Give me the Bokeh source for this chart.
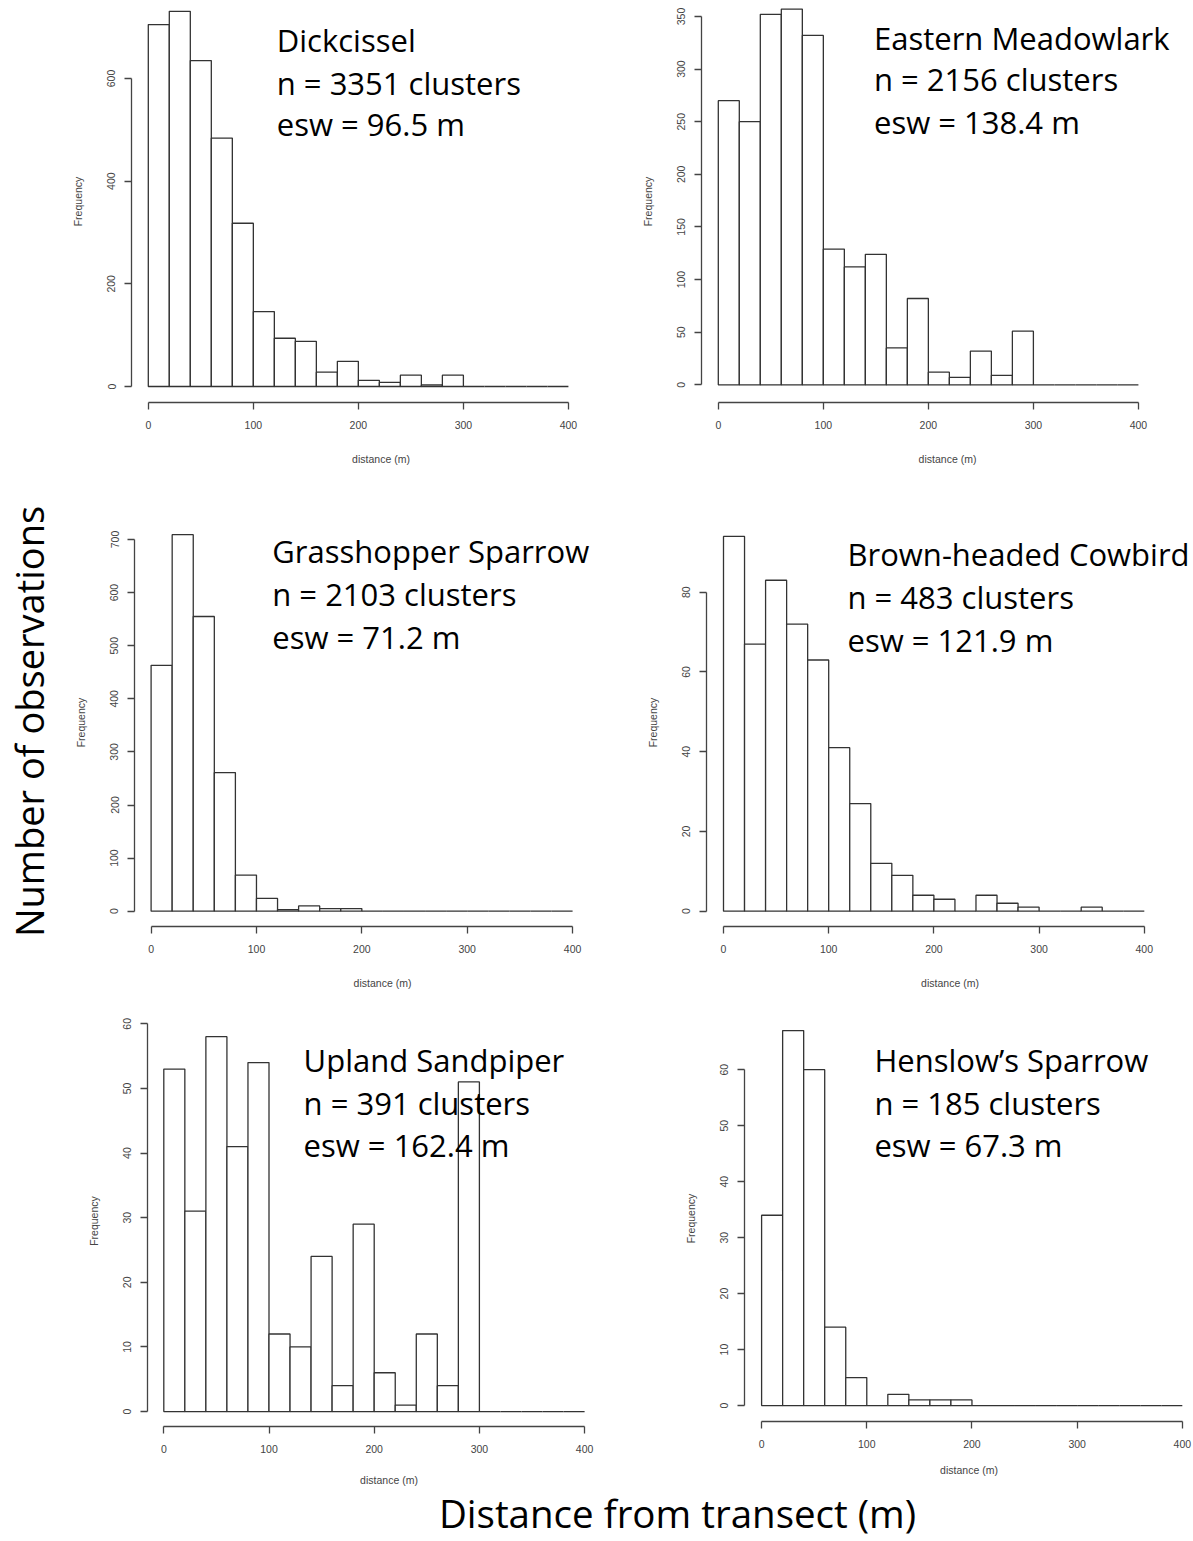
import numpy as np
from bokeh.plotting import figure
from bokeh.layouts import row, column
from bokeh.models import Range1d, FixedTicker, Label
from bokeh.embed import file_html
from bokeh.resources import INLINE
from bokeh.core.properties import value

# 20 m distance bins from 0 to 400 m
bin_edges = list(range(0, 420, 20))

species = ["Dickcissel", "Eastern Meadowlark", "Grasshopper Sparrow",
           "Brown-headed Cowbird", "Upland Sandpiper", "Henslow\u2019s Sparrow"]
n_labels = ["n = 3351 clusters", "n = 2156 clusters", "n = 2103 clusters",
            "n = 483 clusters", "n = 391 clusters", "n = 185 clusters"]
esw_labels = ["esw = 96.5 m", "esw = 138.4 m", "esw = 71.2 m",
              "esw =  121.9 m", "esw =  162.4 m", "esw = 67.3 m"]

# observation counts per 20 m bin
dickcissel = [705, 731, 635, 484, 318, 146, 94, 88, 28, 49, 12, 8, 22, 3, 22, 0, 0, 0, 0, 0]
eastern_meadowlark = [270, 250, 352, 357, 332, 129, 112, 124, 35, 82, 12, 7, 32, 9, 51, 0, 0, 0, 0, 0]
grasshopper_sparrow = [463, 709, 555, 261, 68, 24, 3, 10, 5, 5, 0, 0, 0, 0, 0, 0, 0, 0, 0, 0]
brown_headed_cowbird = [94, 67, 83, 72, 63, 41, 27, 12, 9, 4, 3, 0, 4, 2, 1, 0, 0, 1, 0, 0]
upland_sandpiper = [53, 31, 58, 41, 54, 12, 10, 24, 4, 29, 6, 1, 12, 4, 51, 0, 0, 0, 0, 0]
henslows_sparrow = [34, 67, 60, 14, 5, 0, 2, 1, 1, 1, 0, 0, 0, 0, 0, 0, 0, 0, 0, 0]

counts_all = [dickcissel, eastern_meadowlark, grasshopper_sparrow,
              brown_headed_cowbird, upland_sandpiper, henslows_sparrow]

x_ticks = [0, 100, 200, 300, 400]
y_steps = [200, 50, 100, 20, 10, 10]

# Page geometry (pixels from the page's top-left corner).
LEFT_W = 60                       # strip holding the shared y title
COL_X = [60, 630]                 # left edge of each panel column
COL_W = [570, 563]
ROW_Y = [0, 470, 995]             # top edge of each panel row
BOTTOM_Y = 1488                   # strip holding the shared x title
PAGE_W, PAGE_H = 1193, 1541

# per panel: canvas size and borders, where data 0 sits (x0, y0) and px per unit (sx, sy),
# the x-title gap, plus the left edge and baselines of the annotation block
panel_geo = [
    dict(col=0, row=0, h=470, l=71, t=0, b=68, x0=147.8, sx=1.0503, y0=386.0, sy=0.5133,
         xgap=21, tx=276.3, ty=[52.7, 95.7, 137.3]),
    dict(col=1, row=0, h=470, l=71, t=0, b=68, x0=717.8, sx=1.0503, y0=384.3, sy=1.0524,
         xgap=21, tx=873.5, ty=[51.0, 92.3, 135.0]),
    dict(col=0, row=1, h=525, l=74, t=48, b=69, x0=150.6, sx=1.0537, y0=910.7, sy=0.531,
         xgap=21, tx=271.8, ty=[564.0, 606.7, 650.0]),
    dict(col=1, row=1, h=525, l=76, t=48, b=69, x0=723.0, sx=1.052, y0=910.7, sy=3.9875,
         xgap=21, tx=847.0, ty=[566.7, 610.0, 653.3]),
    dict(col=0, row=2, h=493, l=87, t=20, b=61, x0=163.3, sx=1.052, y0=1412.0, sy=6.478,
         xgap=18, tx=303.1, ty=[1073.3, 1116.7, 1158.3]),
    dict(col=1, row=2, h=488, l=114, t=20, b=61, x0=761.1, sx=1.0518, y0=1406.0, sy=5.611,
         xgap=13, tx=873.9, ty=[1073.3, 1116.7, 1158.3]),
]

AXIS_COLOR = "#444444"
BAR_LINE = "#333333"
NOTE_FONT = "Open Sans"
NOTE_PX = 31
BASE_SHIFT = 0.44     # alphabetic-baseline correction for the text renderer, in em


def make_panel(counts, lines, g, step):
    cx, cy, w = COL_X[g["col"]], ROW_Y[g["row"]], COL_W[g["col"]]
    f_left, f_right = cx + g["l"], cx + w
    f_top, f_bottom = cy + g["t"], cy + g["h"] - g["b"]
    x_start, x_end = (f_left - g["x0"]) / g["sx"], (f_right - g["x0"]) / g["sx"]
    y_start, y_end = (g["y0"] - f_bottom) / g["sy"], (g["y0"] - f_top) / g["sy"]

    p = figure(width=w, height=g["h"],
               x_range=Range1d(x_start, x_end), y_range=Range1d(y_start, y_end),
               output_backend="svg", toolbar_location=None,
               min_border_left=g["l"], min_border_right=0,
               min_border_top=g["t"], min_border_bottom=g["b"])
    p.outline_line_color = None
    p.xgrid.grid_line_color = None
    p.ygrid.grid_line_color = None

    p.quad(left=bin_edges[:-1], right=bin_edges[1:], bottom=0, top=counts,
           fill_color="white", line_color=BAR_LINE, line_width=1.3)

    last = int(y_end // step) * step
    yt = list(range(0, last + 1, step))

    for ax, ticks, bounds in ((p.xaxis[0], x_ticks, (0, 400)), (p.yaxis[0], yt, (0, last))):
        ax.ticker = FixedTicker(ticks=ticks)
        ax.bounds = bounds
        ax.axis_line_color = AXIS_COLOR
        ax.axis_line_width = 1.3
        ax.major_tick_line_color = AXIS_COLOR
        ax.major_tick_line_width = 1.3
        ax.major_tick_in = 0
        ax.major_tick_out = 7
        ax.minor_tick_line_color = None
        ax.major_label_text_font = "Liberation Sans"
        ax.major_label_text_font_size = "10.5px"
        ax.major_label_text_color = AXIS_COLOR
        ax.axis_label_text_font = "Liberation Sans"
        ax.axis_label_text_font_size = "10.5px"
        ax.axis_label_text_font_style = "normal"
        ax.axis_label_text_color = AXIS_COLOR

    p.xaxis.axis_label = "distance (m)"
    p.xaxis.major_label_standoff = 11
    p.xaxis.axis_label_standoff = g["xgap"]
    p.yaxis.axis_label = "Frequency"
    p.yaxis.major_label_orientation = "parallel"
    p.yaxis.major_label_standoff = 9
    p.yaxis.axis_label_standoff = 21

    # species name, sample size and effective strip width
    x_txt = (g["tx"] - g["x0"]) / g["sx"]
    for txt, py in zip(lines, g["ty"]):
        y_txt = (g["y0"] - py + BASE_SHIFT * NOTE_PX) / g["sy"]
        p.add_layout(Label(x=x_txt, y=y_txt, text=txt, text_font=NOTE_FONT,
                           text_font_size=f"{NOTE_PX}px", text_color="black",
                           text_baseline="alphabetic", text_align="left"))
    return p


panels = []
for i in range(6):
    lines = [species[i], n_labels[i], esw_labels[i]]
    panels.append(make_panel(counts_all[i], lines, panel_geo[i], y_steps[i]))


def blank(width, height):
    f = figure(width=width, height=height, x_range=Range1d(0, width), y_range=Range1d(0, height),
               output_backend="svg", toolbar_location=None,
               min_border_left=0, min_border_right=0, min_border_top=0, min_border_bottom=0)
    f.axis.visible = False
    f.grid.visible = False
    f.outline_line_color = None
    return f


# shared axis titles
LEFT_PX = 38
left_fig = blank(LEFT_W, PAGE_H)
left_fig.text(x=[45 - BASE_SHIFT * LEFT_PX], y=[PAGE_H - 721], text=["Number of observations"],
              angle=np.pi / 2, text_font=value(NOTE_FONT), text_font_size=f"{LEFT_PX}px",
              text_color="black", text_align="center", text_baseline="alphabetic")

BOTTOM_PX = 38.5
bottom_h = PAGE_H - BOTTOM_Y
bottom_fig = blank(PAGE_W - LEFT_W, bottom_h)
bottom_fig.text(x=[677 - LEFT_W], y=[PAGE_H - 1529.4 + BASE_SHIFT * BOTTOM_PX],
                text=["Distance from transect (m)"],
                text_font=value(NOTE_FONT), text_font_size=f"{BOTTOM_PX}px", text_color="black",
                text_align="center", text_baseline="alphabetic")

grid = column(row(panels[0], panels[1]), row(panels[2], panels[3]),
              row(panels[4], panels[5]), bottom_fig)
page = row(left_fig, grid)

open("out.html", "w").write(file_html(page, INLINE))
